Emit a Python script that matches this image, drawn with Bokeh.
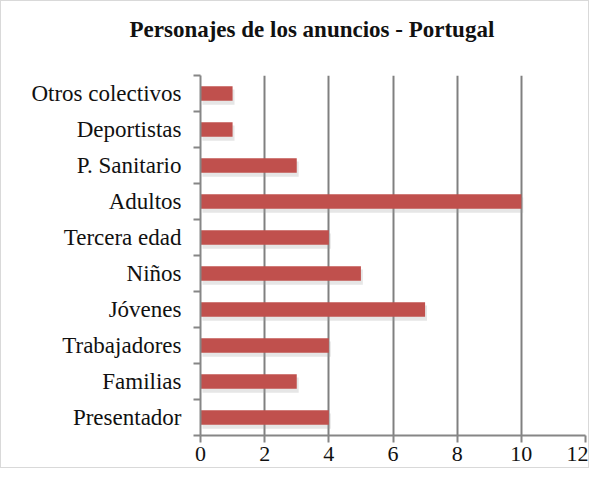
from bokeh.plotting import figure
from bokeh.models import FixedTicker, Range1d, Title
from bokeh.embed import file_html
from bokeh.resources import INLINE

# Data (bottom to top)
categories = ["Presentador", "Familias", "Trabajadores", "Jóvenes", "Niños",
              "Tercera edad", "Adultos", "P. Sanitario", "Deportistas", "Otros colectivos"]
values = [4, 3, 4, 7, 5, 4, 10, 3, 1, 1]
x_ticks = [0, 2, 4, 6, 8, 10, 12]
title_text = "Personajes de los anuncios - Portugal"

n = len(categories)
ypos = [i + 0.5 for i in range(n)]

p = figure(width=589, height=468, output_backend="svg", toolbar_location=None,
           x_range=Range1d(x_ticks[0], x_ticks[-1]), y_range=Range1d(0, n),
           min_border_left=199, min_border_right=5, min_border_bottom=34, min_border_top=74)

p.styles = {"border": "1px solid #d9d9d9"}
p.outline_line_color = None
p.background_fill_color = "white"
p.border_fill_color = "white"

# spacer between frame and title
p.add_layout(Title(text=" ", text_font_size="2px", standoff=26), "above")

# title
p.title.text = title_text
p.title.text_font = "Liberation Serif"
p.title.text_font_size = "23px"
p.title.text_font_style = "bold"
p.title.text_color = "#111111"
p.title.align = "left"
p.title.vertical_align = "top"
p.title.offset = -71
p.title.standoff = 4

# shadow
p.hbar(y=[y - 0.1 for y in ypos], right=[v + 0.06 for v in values], left=0.06, height=0.42,
       fill_color="#9a9a9a", fill_alpha=0.25, line_color=None)
# bars
p.hbar(y=ypos, right=values, left=0, height=0.4, fill_color="#C0504D", line_color=None)

# grid
p.ygrid.grid_line_color = None
p.xgrid.ticker = FixedTicker(ticks=x_ticks)
p.xgrid.grid_line_color = "#808080"
p.xgrid.grid_line_width = 2

# x axis
p.xaxis.ticker = FixedTicker(ticks=x_ticks)
p.xaxis.axis_line_color = "#868686"
p.xaxis.axis_line_width = 2
p.xaxis.major_tick_line_color = "#868686"
p.xaxis.major_tick_line_width = 2
p.xaxis.major_tick_out = 7
p.xaxis.major_tick_in = 0
p.xaxis.minor_tick_line_color = None
p.xaxis.major_label_text_font = "Liberation Serif"
p.xaxis.major_label_text_font_size = "22px"
p.xaxis.major_label_text_color = "#111111"
p.xaxis.major_label_standoff = 4

# y axis
p.yaxis.ticker = FixedTicker(ticks=ypos, minor_ticks=list(range(n + 1)))
p.yaxis.major_label_overrides = {ypos[i]: categories[i] for i in range(n)}
p.yaxis.axis_line_color = "#868686"
p.yaxis.axis_line_width = 2
p.yaxis.major_tick_line_color = None
p.yaxis.major_tick_out = 0
p.yaxis.major_tick_in = 0
p.yaxis.minor_tick_line_color = "#868686"
p.yaxis.minor_tick_line_width = 2
p.yaxis.minor_tick_out = 7
p.yaxis.minor_tick_in = 0
p.yaxis.major_label_text_font = "Liberation Serif"
p.yaxis.major_label_text_font_size = "23px"
p.yaxis.major_label_text_color = "#111111"
p.yaxis.major_label_standoff = 12

open("out.html", "w").write(file_html(p, INLINE))
